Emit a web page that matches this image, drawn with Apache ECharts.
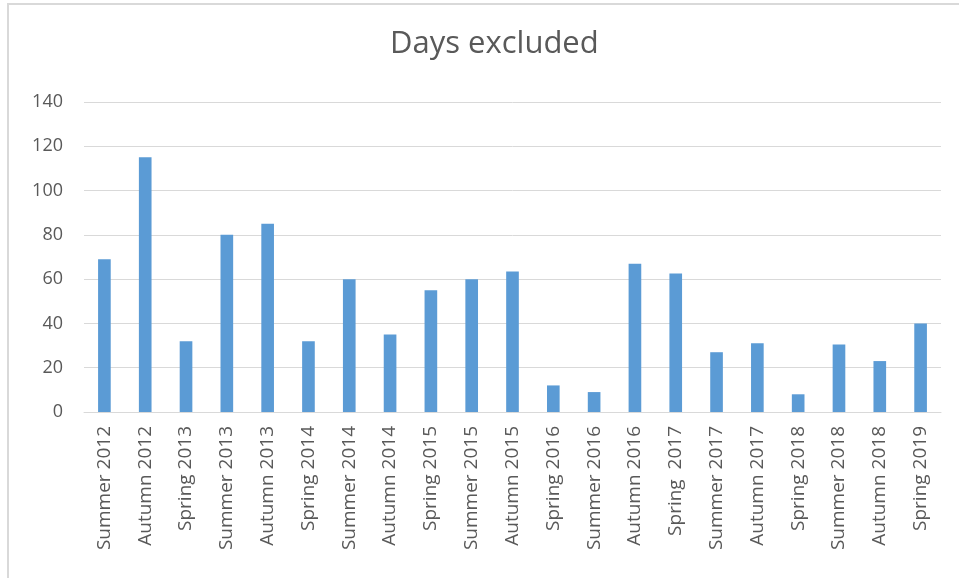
<!DOCTYPE html>
<html>
<head>
<meta charset="utf-8">
<script src="https://cdn.jsdelivr.net/npm/echarts@6/dist/echarts.min.js"></script>
<style>
  html, body { margin: 0; padding: 0; background: #fff; }
  #main { width: 959px; height: 578px; }
</style>
</head>
<body>
<div id="main"></div>
<script>
// terms and days excluded
var terms = ['Summer 2012', 'Autumn 2012', 'Spring 2013', 'Summer 2013', 'Autumn 2013',
  'Spring 2014', 'Summer 2014', 'Autumn 2014', 'Spring 2015', 'Summer 2015', 'Autumn 2015',
  'Spring 2016', 'Summer 2016', 'Autumn 2016', 'Spring  2017', 'Summer 2017', 'Autumn 2017',
  'Spring 2018', 'Summer 2018', 'Autumn 2018', 'Spring 2019'];
var daysExcluded = [69, 115, 32, 80, 85, 32, 60, 35, 55, 60, 63.5, 12, 9, 67, 62.5, 27, 31, 8, 30.5, 23, 40];

var chart = echarts.init(document.getElementById('main'));

var option = {
  animation: false,
  title: {
    text: 'Days excluded',
    left: 385,
    top: 24,
    textStyle: { fontFamily: 'Open Sans', fontSize: 31, fontWeight: 'normal', color: '#595959' }
  },
  graphic: [{
    type: 'rect',
    shape: { x: 8, y: 4, width: 980, height: 600 },
    style: { fill: 'none', stroke: '#d9d9d9', lineWidth: 2 },
    silent: true
  }],
  grid: { left: 84, right: 18, top: 102, bottom: 166 },
  xAxis: {
    type: 'category',
    data: terms,
    axisLine: { lineStyle: { color: '#d9d9d9', width: 1 } },
    axisTick: { show: false },
    axisLabel: {
      rotate: 90,
      interval: 0,
      margin: 14,
      fontFamily: 'Open Sans',
      fontSize: 19,
      color: '#595959'
    }
  },
  yAxis: {
    type: 'value',
    min: 0,
    max: 140,
    interval: 20,
    axisLine: { show: false },
    axisTick: { show: false },
    splitLine: { lineStyle: { color: '#d9d9d9', width: 1 } },
    axisLabel: { fontFamily: 'Open Sans', fontSize: 18, color: '#595959', margin: 21 }
  },
  series: [{
    type: 'bar',
    data: daysExcluded,
    barWidth: '31%',
    itemStyle: { color: '#5b9bd5' }
  }]
};

option && chart.setOption(option);
</script>
</body>
</html>
